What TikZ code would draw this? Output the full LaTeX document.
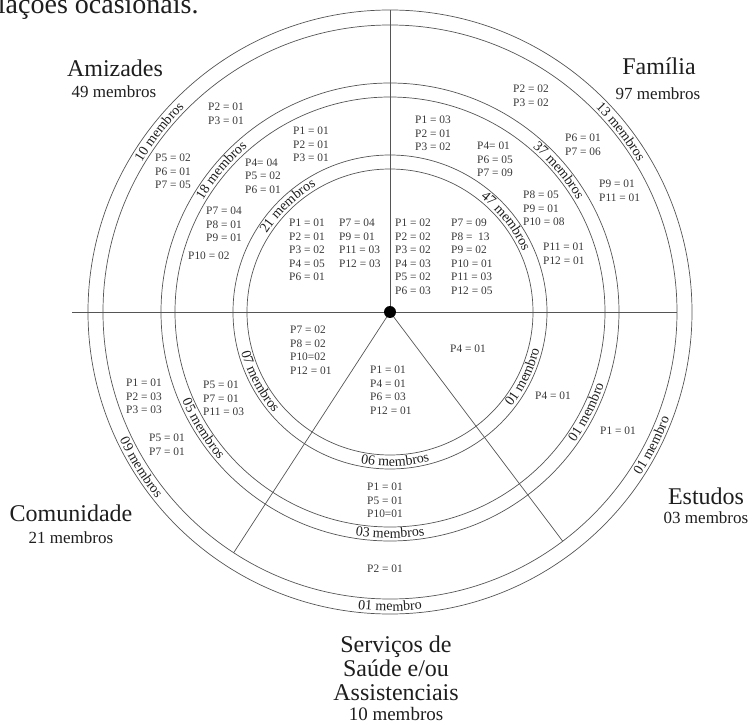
\documentclass[tikz,border=0pt]{standalone}
\usepackage{fontspec}
\setmainfont{Liberation Serif}
\usetikzlibrary{decorations.text}

\definecolor{ink}{HTML}{1E1E1E}
\definecolor{rulegray}{HTML}{555555}
\definecolor{plabel}{HTML}{383838}

\tikzset{
  ring/.style={draw=rulegray, line width=0.7pt},
  spoke/.style={draw=rulegray, line width=0.7pt},
  plab/.style={font=\fontsize{11.4}{13.5}\selectfont, text=plabel, inner sep=0pt, align=left, anchor=north west},
  plabc/.style={plab, align=center, anchor=north},
  cat/.style={font=\fontsize{24}{24}\selectfont, text=ink, inner sep=0pt, anchor=base},
  catsub/.style={font=\fontsize{17}{17}\selectfont, text=ink, inner sep=0pt, anchor=base},
}
\newcommand\ringfont{\fontsize{14}{14}\selectfont}
% ring label read clockwise (upper half): angle, baseline radius, text
\newcommand\arclabcw[3]{\path[decorate,decoration={text along path,text align=center,text color=ink,text={|\ringfont|#3}}] ({#1+25}:#2) arc[start angle={#1+25},end angle={#1-25},radius=#2];}
% ring label read counter-clockwise (lower half)
\newcommand\arclabccw[3]{\path[decorate,decoration={text along path,text align=center,text color=ink,text={|\ringfont|#3}}] ({#1-25}:#2) arc[start angle={#1-25},end angle={#1+25},radius=#2];}

\begin{document}
\begin{tikzpicture}[x=1pt,y=1pt]
\useasboundingbox (-390,-413) rectangle (362,312);

% caption line running off the top edge
\node[font=\fontsize{28}{28}\selectfont, text=ink, anchor=base west, inner sep=0pt] (caption) at (-414,298) {relações ocasionais.};

\coordinate (o) at (0,0);

% concentric rings
\foreach \r in {143,157,215,229,287,302}
  \draw[ring] (o) circle[radius=\r];

% sector boundaries
\coordinate (top) at (90:302);
\coordinate (left) at (-318,0);
\coordinate (right) at (0:287);
\coordinate (sw) at (-123:287);
\coordinate (se) at (-53:287);
\draw[spoke] (o) -- (top);
\draw[spoke] (o) -- (left);
\draw[spoke] (o) -- (right);
\draw[spoke] (o) -- (sw);
\draw[spoke] (o) -- (se);
\node[circle, fill=black, inner sep=0pt, minimum size=12pt] (hub) at (o) {};

% ring labels
\arclabcw{142}{290}{10 membros}
\arclabcw{140}{218}{18 membros}
\arclabcw{134}{146}{21 membros}
\arclabcw{38}{290}{13 membros}
\arclabcw{40}{218}{37 membros}
\arclabcw{38}{146}{47 membros}
\arclabccw{-26}{154}{01 membro}
\arclabccw{-27}{226}{01 membro}
\arclabccw{-27}{299}{01 membro}
\arclabccw{-88}{154}{06 membros}
\arclabccw{-90}{226}{03 membros}
\arclabccw{-90}{299}{01 membro}
\arclabccw{-152}{154}{07 membros}
\arclabccw{-148}{226}{05 membros}
\arclabccw{-148}{299}{09 membros}

% Amizades
\node[plab] (a1) at (-182,208.8) {P2 = 01\\P3 = 01};
\node[plab] (a2) at (-235,157.8) {P5 = 02\\P6 = 01\\P7 = 05};
\node[plab] (a3) at (-97,184.8) {P1 = 01\\P2 = 01\\P3 = 01};
\node[plab] (a4) at (-145,153.3) {P4= 04\\P5 = 02\\P6 = 01};
\node[plab] (a5) at (-184,104.8) {P7 = 04\\P8 = 01\\P9 = 01};
\node[plab] (a6) at (-202,60.5) {P10 = 02};
\node[plab] (a7) at (-101,92.8) {P1 = 01\\P2 = 01\\P3 = 02\\P4 = 05\\P6 = 01};
\node[plab] (a8) at (-51,92.8) {P7 = 04\\P9 = 01\\P11 = 03\\P12 = 03};

% Família
\node[plab] (f1) at (5,92.8) {P1 = 02\\P2 = 02\\P3 = 02\\P4 = 03\\P5 = 02\\P6 = 03};
\node[plab] (f2) at (61,92.8) {P7 = 09\\P8 = \ 13\\P9 = 02\\P10 = 01\\P11 = 03\\P12 = 05};
\node[plab] (f3) at (25,195.8) {P1 = 03\\P2 = 01\\P3 = 02};
\node[plab] (f4) at (87,169.8) {P4= 01\\P6 = 05\\P7 = 09};
\node[plab] (f5) at (133,120.8) {P8 = 05\\P9 = 01\\P10 = 08};
\node[plab] (f6) at (153,68.8) {P11 = 01\\P12 = 01};
\node[plab] (f7) at (123,226.8) {P2 = 02\\P3 = 02};
\node[plab] (f8) at (175,177.8) {P6 = 01\\P7 = 06};
\node[plab] (f9) at (209,131.8) {P9 = 01\\P11 = 01};

% Estudos
\node[plab] (e1) at (60,-33.2) {P4 = 01};
\node[plab] (e2) at (145,-80.2) {P4 = 01};
\node[plab] (e3) at (210,-115.2) {P1 = 01};

% Serviços de Saúde e/ou Assistenciais
\node[plab] (s1) at (-20,-54.2) {P1 = 01\\P4 = 01\\P6 = 03\\P12 = 01};
\node[plabc] (s2) at (-5,-171.2) {P1 = 01\\P5 = 01\\P10=01};
\node[plabc] (s3) at (-5,-253.2) {P2 = 01};

% Comunidade
\node[plab] (c1) at (-100,-14.2) {P7 = 02\\P8 = 02\\P10=02\\P12 = 01};
\node[plab] (c2) at (-187,-69.2) {P5 = 01\\P7 = 01\\P11 = 03};
\node[plab] (c3) at (-264,-67.2) {P1 = 01\\P2 = 03\\P3 = 03};
\node[plab] (c4) at (-241,-122.2) {P5 = 01\\P7 = 01};

% sector titles
\node[cat] (amiz) at (-275,235) {Amizades};
\node[catsub] (amizn) at (-276,214) {49 membros};
\node[cat] (fam) at (269,237) {Família};
\node[catsub] (famn) at (268,212) {97 membros};
\node[cat] (est) at (316,-192) {Estudos};
\node[catsub] (estn) at (316,-211) {03 membros};
\node[cat] (com) at (-319,-209) {Comunidade};
\node[catsub] (comn) at (-319,-231) {21 membros};
\node[cat] (serv1) at (6,-340) {Serviços de};
\node[cat] (serv2) at (6,-364) {Saúde e/ou};
\node[cat] (serv3) at (6,-388) {Assistenciais};
\node[catsub, font=\fontsize{19}{19}\selectfont] (servn) at (6,-408) {10 membros};
\end{tikzpicture}
\end{document}
